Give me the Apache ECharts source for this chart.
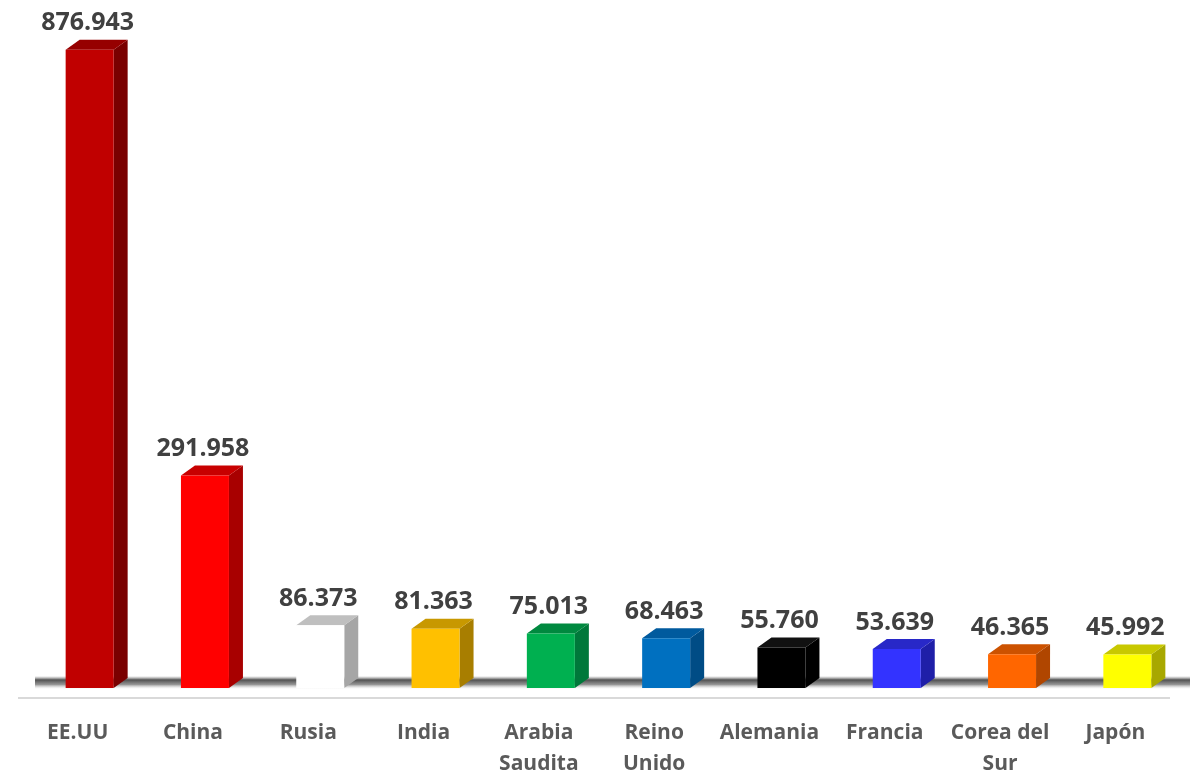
<!DOCTYPE html>
<html>
<head>
<meta charset="utf-8">
<script src="https://cdn.jsdelivr.net/npm/echarts@6/dist/echarts.min.js"></script>
<style>
html,body{margin:0;padding:0;background:#fff;}
#main{width:1190px;height:772px;}
</style>
</head>
<body>
<div id="main"></div>
<script>
const categories = ['EE.UU', 'China', 'Rusia', 'India', 'Arabia\nSaudita', 'Reino\nUnido', 'Alemania', 'Francia', 'Corea del\nSur', 'Japón'];
const values = [876.943, 291.958, 86.373, 81.363, 75.013, 68.463, 55.760, 53.639, 46.365, 45.992];
const valueLabels = ['876.943', '291.958', '86.373', '81.363', '75.013', '68.463', '55.760', '53.639', '46.365', '45.992'];
const frontColors = ['#C00000', '#FF0000', '#FFFFFF', '#FFC000', '#00B050', '#0070C0', '#000000', '#3333FF', '#FF6600', '#FFFF00'];
const sideColors  = ['#7A0000', '#A80000', '#A6A6A6', '#A87E00', '#00783A', '#004C85', '#000000', '#1F1FA8', '#B04600', '#A8A800'];
const topColors   = ['#960000', '#C80000', '#BFBFBF', '#C89800', '#00893F', '#005A9E', '#111111', '#2828C8', '#CC5200', '#C8C800'];

const chart = echarts.init(document.getElementById('main'));

function renderBar(params, api) {
  const idx = api.value(0);
  const val = api.value(1);
  const base = api.coord([idx, 0]);
  const top = api.coord([idx, val]);
  const off = 12, w = 48, dx = 14, dy = 10;
  const cx = base[0] + off;
  const x0 = cx - w / 2, x1 = cx + w / 2;
  const yB = base[1], yT = top[1];
  return {
    type: 'group',
    children: [
      {
        type: 'polygon',
        shape: { points: [[x1, yT], [x1 + dx, yT - dy], [x1 + dx, yB - dy], [x1, yB]] },
        style: { fill: sideColors[idx] }
      },
      {
        type: 'polygon',
        shape: { points: [[x0, yT], [x0 + dx, yT - dy], [x1 + dx, yT - dy], [x1, yT]] },
        style: { fill: topColors[idx] }
      },
      {
        type: 'rect',
        shape: { x: x0, y: yT, width: w, height: yB - yT },
        style: { fill: frontColors[idx] }
      },
      {
        type: 'text',
        style: {
          x: cx - 2, y: yT - dy - 4,
          text: valueLabels[idx],
          align: 'center', verticalAlign: 'bottom',
          fill: '#404040',
          font: 'bold 25px "Open Sans", sans-serif'
        }
      }
    ]
  };
}

chart.setOption({
  backgroundColor: '#ffffff',
  animation: false,
  grid: { left: 20, right: 17, top: 33, bottom: 84, outerBoundsMode: 'none', containLabel: false },
  xAxis: {
    type: 'category',
    data: categories,
    axisLine: { show: false },
    axisTick: { show: false },
    axisLabel: {
      color: '#5A5A5A',
      fontFamily: 'Open Sans',
      fontWeight: 'bold',
      fontSize: 21,
      lineHeight: 31,
      margin: 30,
      interval: 0
    }
  },
  yAxis: {
    type: 'value', min: 0, max: 900, show: false, splitLine: { show: false }
  },
  graphic: [
    {
      type: 'rect', z: 0,
      shape: { x: 35, y: 676, width: 1155, height: 13 },
      style: {
        fill: new echarts.graphic.LinearGradient(0, 0, 0, 1, [
          { offset: 0, color: 'rgba(120,120,120,0)' },
          { offset: 0.3, color: 'rgba(50,50,50,0.85)' },
          { offset: 0.65, color: 'rgba(110,110,110,0.75)' },
          { offset: 1, color: 'rgba(210,210,210,0)' }
        ])
      }
    },
    {
      type: 'line', z: 0,
      shape: { x1: 18, y1: 698, x2: 1170, y2: 698 },
      style: { stroke: '#D9D9D9', lineWidth: 2 }
    }
  ],
  series: [{
    type: 'custom',
    z: 10,
    renderItem: renderBar,
    encode: { x: 0, y: 1 },
    data: values.map((v, i) => [i, v])
  }]
});
</script>
</body>
</html>
